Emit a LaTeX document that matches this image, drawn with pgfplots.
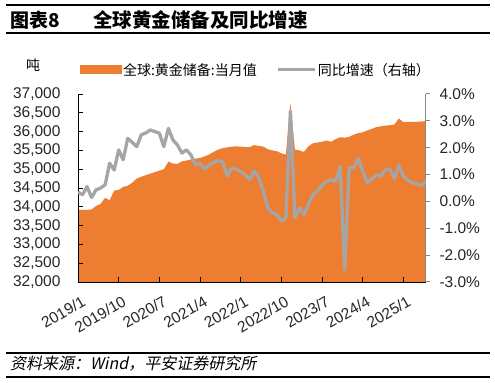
\documentclass[border=0pt]{standalone}
\usepackage{fontspec}
\setmainfont{Liberation Sans}
\newfontfamily\cjk{Noto Sans CJK SC}
\newfontfamily\cjkit[FakeSlant=0.2]{Noto Sans CJK SC}
\usepackage{pgfplots}
\usepackage{pgfplotstable}
\pgfplotsset{compat=1.18}
\definecolor{xlorange}{HTML}{ED7D31}
\definecolor{xlgray}{HTML}{A5A5A5}
\definecolor{axgray}{HTML}{868686}
\pgfplotsset{
  patchlegend/.style={legend image code/.code={\fill[##1] (0bp,-4.5bp) rectangle (42bp,4.5bp);}},
  linelegend/.style={legend image code/.code={\draw[##1] (0bp,0bp) -- (37bp,0bp);}},
}

\pgfplotstableread{
idx res
0 33920
1 33920
2 33920
3 33930
4 34020
5 34080
6 34240
7 34170
8 34430
9 34450
10 34530
11 34560
12 34640
13 34750
14 34800
15 34840
16 34880
17 34920
18 34960
19 35000
20 35200
21 35150
22 35140
23 35210
24 35230
25 35260
26 35280
27 35300
28 35340
29 35390
30 35460
31 35520
32 35560
33 35580
34 35600
35 35610
36 35600
37 35590
38 35590
39 35640
40 35620
41 35600
42 35530
43 35500
44 35480
45 35420
46 35390
47 36760
48 35520
49 35500
50 35460
51 35610
52 35690
53 35710
54 35730
55 35760
56 35730
57 35800
58 35850
59 35840
60 35860
61 35920
62 35960
63 35980
64 36030
65 36070
66 36120
67 36140
68 36160
69 36170
70 36190
71 36350
72 36250
73 36260
74 36260
75 36260
76 36270
77 36280
}\restable

\pgfplotstableread{
idx yoy
0 0.35
1 0.25
2 0.55
3 0.15
4 0.43
5 0.50
6 0.62
7 1.42
8 1.17
9 1.92
10 1.55
11 2.35
12 2.20
13 2.04
14 2.48
15 2.55
16 2.66
17 2.60
18 2.54
19 2.04
20 2.72
21 2.29
22 2.10
23 1.80
24 1.92
25 1.73
26 1.36
27 1.42
28 1.20
29 1.36
30 1.45
31 1.52
32 1.48
33 0.95
34 1.24
35 1.20
36 1.11
37 1.00
38 0.81
39 1.13
40 0.88
41 0.38
42 -0.24
43 -0.42
44 -0.49
45 -0.73
46 -0.61
47 3.36
48 -0.61
49 -0.24
50 -0.49
51 -0.11
52 0.26
53 0.38
54 0.60
55 0.75
56 0.81
57 0.75
58 1.30
59 -2.55
60 1.25
61 1.25
62 1.60
63 1.13
64 0.69
65 0.85
66 0.98
67 0.94
68 1.19
69 1.19
70 0.85
71 1.35
72 0.94
73 0.78
74 0.70
75 0.65
76 0.58
77 0.75
}\yoytable

\begin{document}
\begin{tikzpicture}
\path[use as bounding box] (0bp,0bp) rectangle (495bp,383bp);
\node[anchor=base west, inner sep=0pt] at (10bp,355bp) {\cjk\bfseries\fontsize{19bp}{22bp}\selectfont 图表8};
\node[anchor=base west, inner sep=0pt] at (93bp,355bp) {\cjk\bfseries\fontsize{19.5bp}{22bp}\selectfont 全球黄金储备及同比增速};
\node[anchor=base west, inner sep=0pt] at (10bp,14bp) {\cjkit\fontsize{16bp}{18bp}\selectfont 资料来源：Wind，平安证券研究所};
\node[inner sep=0pt] at (33bp,318bp) {\cjk\fontsize{14bp}{16bp}\selectfont 吨};
\node[anchor=west, inner sep=0pt, outer sep=0pt] at (6bp,378bp) {\rule{484bp}{1.5bp}};
\node[anchor=west, inner sep=0pt, outer sep=0pt] at (6bp,349.5bp) {\rule{484bp}{2bp}};
\node[anchor=west, inner sep=0pt, outer sep=0pt] at (6bp,30bp) {\rule{484bp}{1.5bp}};
\node[anchor=west, inner sep=0pt, outer sep=0pt] at (6bp,6bp) {\rule{484bp}{1.5bp}};

\begin{axis}[
  at={(78bp,101bp)}, anchor=south west,
  scale only axis, width=348bp, height=188bp,
  xmin=0, xmax=77, ymin=32000, ymax=37000,
  axis y line*=left, axis x line*=bottom,
  axis on top,
  xtick={0,9,18,27,36,45,54,63,72},
  xticklabels={2019/1,2019/10,2020/7,2021/4,2022/1,2022/10,2023/7,2024/4,2025/1},
  ytick={32000,32500,...,37000},
  scaled y ticks=false,
  /pgf/number format/1000 sep={,},
  /pgf/number format/assume math mode=true,
  tick align=inside,
  major tick length=5bp,
  axis line style={black, line width=1bp},
  tick style={black, line width=1bp},
  yticklabel style={font=\fontsize{15.5bp}{17bp}\selectfont, text=black!85, xshift=-14bp},
  x tick label style={xshift=3bp, yshift=-13bp, rotate=30, anchor=north east, inner sep=0pt, font=\fontsize{15.5bp}{17bp}\selectfont, text=black!85},
  legend columns=2,
  legend style={draw=none, fill=none, inner sep=0pt, outer sep=0pt,
    at={(axis description cs:0.006,1.128)}, anchor=west,
    font=\cjk\fontsize{14bp}{16bp}\selectfont,
    nodes={inner sep=1bp},
    /tikz/every even column/.append style={column sep=19bp}},
]
\addplot[fill=xlorange, draw=none, patchlegend]
  table[x=idx,y=res]{\restable} \closedcycle;
\addlegendentry{全球:黄金储备:当月值}
\addlegendimage{xlgray, line width=3bp, linelegend}
\addlegendentry{同比增速（右轴）}
\end{axis}

\begin{axis}[
  at={(78bp,101bp)}, anchor=south west,
  scale only axis, width=348bp, height=188bp,
  xmin=0, xmax=77, ymin=-3, ymax=4,
  axis y line*=right, axis x line=none,
  ytick={-3,-2,...,4},
  yticklabel={\pgfmathprintnumber[fixed,fixed zerofill,precision=1]{\tick}\%},
  /pgf/number format/assume math mode=true,
  tick align=outside,
  major tick length=4bp,
  y axis line style={axgray, line width=1bp},
  ytick style={axgray, line width=1bp},
  yticklabel style={font=\fontsize{15.5bp}{17bp}\selectfont, text=black!85, xshift=6bp},
]
\addplot[xlgray, line width=3.3bp, line join=round] table[x=idx,y=yoy]{\yoytable};
\end{axis}
\end{tikzpicture}
\end{document}
